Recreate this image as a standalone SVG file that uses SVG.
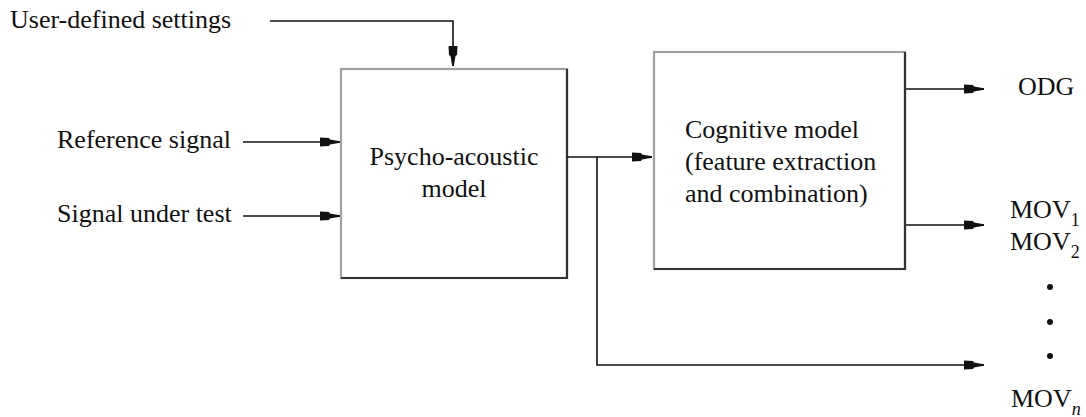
<svg xmlns="http://www.w3.org/2000/svg" width="1086" height="417" viewBox="0 0 1086 417" font-family="'Liberation Serif', 'DejaVu Serif', serif">
<style>
text{font-family:'Liberation Serif','DejaVu Serif',serif;font-size:26px;fill:#111}
.sub{font-size:18px}
.ln{fill:none;stroke:#111;stroke-width:1.6}
.box{fill:#fff;stroke:#a0a0a0;stroke-width:2.2}
.shd{fill:none;stroke:#333;stroke-width:2.2}
</style>
<defs>
<marker id="ah" markerUnits="userSpaceOnUse" markerWidth="24" markerHeight="12" viewBox="-21 -6 22 12" refX="0" refY="0" orient="auto">
<path d="M-20,-4.5 L-11,-4 L-10,-2.5 L0,-0.8 L0,0.8 L-10,2.5 L-11,4 L-20,4.5 Z" fill="#111"/>
</marker>
</defs>
<g id="psycho">
<rect class="box" x="341" y="69" width="226" height="209"/>
<path class="shd" d="M567,69 V278 H341"/>
<text x="454" y="165" text-anchor="middle">Psycho-acoustic</text>
<text x="454" y="197" text-anchor="middle">model</text>
</g>
<g id="cognitive">
<rect class="box" x="654" y="52" width="251" height="217"/>
<path class="shd" d="M905,52 V269 H654"/>
<text x="685" y="138">Cognitive model</text>
<text x="685" y="170">(feature extraction</text>
<text x="685" y="202">and combination)</text>
</g>
<g id="inputs">
<text x="10" y="28">User-defined settings</text>
<text x="57" y="148">Reference signal</text>
<text x="57" y="222">Signal under test</text>
</g>
<g id="outputs">
<text x="1018" y="95">ODG</text>
<text x="1010" y="218">MOV<tspan class="sub" dy="8">1</tspan></text>
<text x="1010" y="250">MOV<tspan class="sub" dy="8">2</tspan></text>
<circle cx="1050" cy="287" r="3" fill="#111"/>
<circle cx="1050" cy="322" r="3" fill="#111"/>
<circle cx="1050" cy="356" r="3" fill="#111"/>
<text x="1011" y="407">MOV<tspan class="sub" dy="8" font-style="italic">n</tspan></text>
</g>
<g id="connectors">
<path class="ln" d="M270,21 H453 V66" marker-end="url(#ah)"/>
<path class="ln" d="M243,142 H340" marker-end="url(#ah)"/>
<path class="ln" d="M243,216 H340" marker-end="url(#ah)"/>
<path class="ln" d="M567,157 H652" marker-end="url(#ah)"/>
<path class="ln" d="M597,157 V365 H984" marker-end="url(#ah)"/>
<path class="ln" d="M906,89 H984" marker-end="url(#ah)"/>
<path class="ln" d="M906,225 H984" marker-end="url(#ah)"/>
</g>
</svg>
